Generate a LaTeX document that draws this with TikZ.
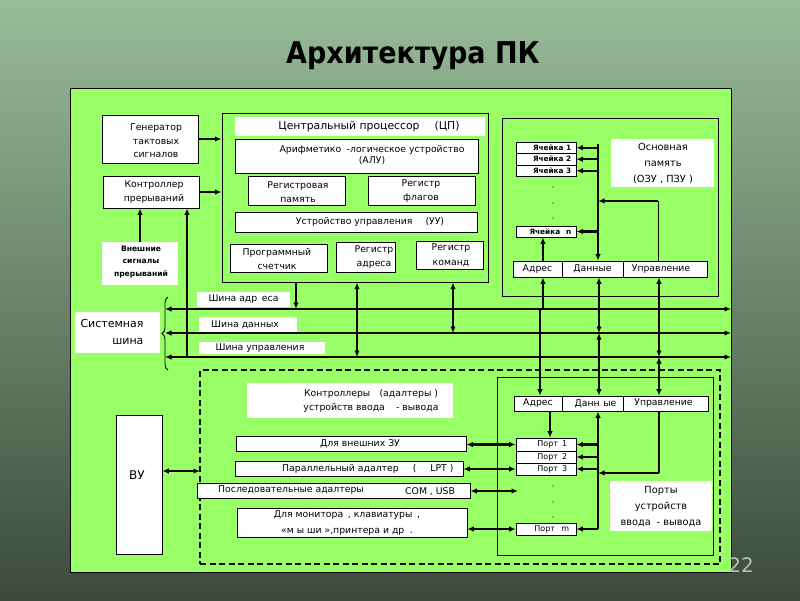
\documentclass[tikz,border=0pt]{standalone}
\usepackage{fontspec}
\setmainfont{DejaVu Sans}
\newfontfamily\ttlfont{DejaVu Sans Condensed}
\usetikzlibrary{fit,arrows.meta,decorations.pathreplacing}
\definecolor{panel}{RGB}{153,255,102}
\definecolor{bgtop}{RGB}{152,188,152}
\definecolor{bgmid}{RGB}{105,132,105}
\definecolor{bgbot}{RGB}{60,74,60}
\definecolor{pagenum}{RGB}{185,192,185}
\newcommand\fntN{\fontsize{9.3}{14.5}\selectfont}
\newcommand\fntT{\fontsize{10.8}{13}\selectfont}
\newcommand\fntA{\fontsize{9.3}{11}\selectfont}
\newcommand\fntG{\fontsize{9.3}{13.5}\selectfont}
\newcommand\fntE{\fontsize{7.6}{12.5}\selectfont\bfseries}
\newcommand\fntC{\fontsize{7.3}{8}\selectfont\bfseries}
\newcommand\fntP{\fontsize{8}{9}\selectfont}
\newcommand\fntM{\fontsize{9.8}{16}\selectfont}
\newcommand\fntB{\fontsize{11}{17.5}\selectfont}
\newcommand\fntL{\fontsize{9.3}{16}\selectfont}
\newcommand\fntV{\fontsize{12}{14}\selectfont}
\begin{document}
\begin{tikzpicture}[x=1pt,y=-1pt,>={Latex[length=6.5pt,width=5.5pt]},
 box/.style={draw=black,fill=white,line width=0.8pt,inner sep=0pt},
 wbox/.style={fill=white,draw=none,inner sep=0pt},
 frame/.style={draw=black,line width=1pt,inner sep=0pt},
 conn/.style={line width=2.3pt},
 thinconn/.style={line width=1pt},
 busline/.style={line width=2.8pt},
 txt/.style={inner sep=0pt,align=center,font=\fntN},
 celltxt/.style={inner sep=0pt,anchor=east,font=\fntC},
 porttxt/.style={inner sep=0pt,anchor=east,font=\fntP}]
\useasboundingbox (0,0) rectangle (800,600);
\shade[top color=bgtop, middle color=bgmid, bottom color=bgbot] (0,0) rectangle (800,600);
\node[font=\ttlfont\bfseries\fontsize{30}{32}\selectfont] (ttl) at (413,56) {Архитектура ПК};
\node[frame,fit={(70,88)(731,572)},fill=panel] (panel) {};
\node[font=\fontsize{20}{22}\selectfont,text=pagenum] (pnum) at (741,565) {22};

% left column
\node[box,fit={(102,115)(198,163)}] (gen) {};
\node[txt,font=\fntG] (gentxt) at (156,141) {Генератор\\тактовых\\сигналов};
\node[box,fit={(103,176)(199,208)}] (ctrl) {};
\node[txt] (ctrltxt) at (154,192) {Контроллер\\прерываний};
\node[wbox,fit={(102,242)(178,285)}] (ext) {};
\node[txt,font=\fntE] (exttxt) at (141,262) {Внешние\\сигналы\\прерываний};

% CPU
\node[frame,fit={(222,113)(488,282)}] (cpu) {};
\node[wbox,fit={(235,117)(485,136)}] (cputtl) {};
\node[txt,font=\fntT] (cputtltxt) at (369,127) {Центральный процессор\hspace{1.4em}(ЦП)};
\node[box,fit={(235,139)(478,173)}] (alu) {};
\node[txt,font=\fntA] (alutxt) at (372,155) {Арифметико\hspace{0.6em}-логическое устройство\\(АЛУ)};
\node[box,fit={(248,176)(345,205)}] (rmem) {};
\node[txt] (rmemtxt) at (298,192) {Регистровая\\память};
\node[box,fit={(368,176)(475,205)}] (rflag) {};
\node[txt] (rflagtxt) at (421,191) {Регистр\\флагов};
\node[box,fit={(235,212)(477,232)}] (cu) {};
\node[txt] (cutxt) at (370,222) {Устройство управления\hspace{1.4em}(УУ)};
\node[box,fit={(230,244)(327,272)}] (pc) {};
\node[txt] (pctxt) at (277,259) {Программный\\счетчик};
\node[box,fit={(336,242)(395,272)}] (ra) {};
\node[txt] (ratxt) at (374,257) {Регистр\\адреса};
\node[box,fit={(416,241)(483,269)}] (rc) {};
\node[txt] (rctxt) at (451,255) {Регистр\\команд};

% memory
\node[frame,fit={(502,118)(718,296)}] (mem) {};
\node[wbox,fit={(611,139)(714,187)}] (memttl) {};
\node[txt,font=\fntM] (memttltxt) at (663,164) {Основная\\память\\(ОЗУ , ПЗУ )};
\node[box,fit={(516,142)(576,153.5)}] (cell1) {};
\node[box,fit={(516,153.5)(576,165)}] (cell2) {};
\node[box,fit={(516,165)(576,176.5)}] (cell3) {};
\node[box,fit={(516,226)(576,237)}] (celln) {};
\node[celltxt] (cell1t) at ([xshift=-5]cell1.east) {Ячейка 1};
\node[celltxt] (cell2t) at ([xshift=-5]cell2.east) {Ячейка 2};
\node[celltxt] (cell3t) at ([xshift=-5]cell3.east) {Ячейка 3};
\node[celltxt] (cellnt) at ([xshift=-5]celln.east) {Ячейка\hspace{0.8em}n};
\fill (553,187) circle (0.7) (553,203) circle (0.7) (553,218) circle (0.7);
\node[box,fit={(513,261)(562,277)}] (mbA) {};
\node[box,fit={(562,261)(623,277)}] (mbD) {};
\node[box,fit={(623,261)(707,277)}] (mbC) {};
\node[txt] (mbAt) at (mbA.center) {Адрес};
\node[txt] (mbDt) at (mbD.center) {Данные};
\node[txt] (mbCt) at ([xshift=-4]mbC.center) {Управление};

% bus labels
\node[wbox,fit={(197,292)(290,307)}] (lA) {};
\node[txt] (lAt) at (lA.center) {Шина адр\hspace{0.5em}еса};
\node[wbox,fit={(199,317)(297,332)}] (lD) {};
\node[txt] (lDt) at ([xshift=-3]lD.center) {Шина данных};
\node[wbox,fit={(199,342)(325,354)}] (lC) {};
\node[txt] (lCt) at ([xshift=-2]lC.center) {Шина управления};
\node[wbox,fit={(75,312)(160,353)}] (sys) {};
\node[txt,align=right,font=\fntB] (systxt) at (112,332) {Системная\\шина};
\draw[line width=0.8pt,decorate,decoration={brace,amplitude=6pt}] (168,370) -- (168,297);

% I/O
\node[fit={(200,370)(720,564)},draw,line width=2pt,dash pattern=on 6pt off 3.5pt,inner sep=0pt] (iobox) {};
\node[frame,fit={(497,377)(713,555)}] (iop) {};
\node[box,fit={(514,396)(562,411)}] (ioA) {};
\node[box,fit={(562,396)(623,411)}] (ioD) {};
\node[box,fit={(623,396)(708,411)}] (ioC) {};
\node[txt] (ioAt) at (ioA.center) {Адрес};
\node[txt] (ioDt) at ([xshift=3]ioD.center) {Данн\hspace{0.4em}ые};
\node[txt] (ioCt) at ([xshift=-2]ioC.center) {Управление};
\node[box,fit={(516,438)(576,451)}] (p1) {};
\node[box,fit={(516,451)(576,463)}] (p2) {};
\node[box,fit={(516,463)(576,475)}] (p3) {};
\node[box,fit={(516,523)(576,535)}] (pm) {};
\node[porttxt] (p1t) at ([xshift=-9]p1.east) {Порт\hspace{0.5em}1};
\node[porttxt] (p2t) at ([xshift=-9]p2.east) {Порт\hspace{0.5em}2};
\node[porttxt] (p3t) at ([xshift=-9]p3.east) {Порт\hspace{0.5em}3};
\node[porttxt] (pmt) at ([xshift=-7]pm.east) {Порт\hspace{0.8em}m};
\fill (553,486) circle (0.7) (553,502) circle (0.7) (553,517) circle (0.7);
\node[wbox,fit={(610,481)(712,531)}] (iottl) {};
\node[txt,font=\fntM] (iottlt) at (661,507) {Порты\\устройств\\ввода\hspace{0.6em}- вывода};

\node[wbox,fit={(247,383)(453,418)}] (cttl) {};
\node[txt] (cttltxt) at (371,401) {Контроллеры\hspace{1em}(адалтеры )\\устройств ввода\hspace{1.2em}- вывода};
\node[box,fit={(236,436)(466,451)}] (c1) {};
\node[txt] (c1txt) at (360,444) {Для внешних ЗУ};
\node[box,fit={(235,461)(463,476)}] (c2) {};
\node[txt,anchor=west] (c2txt) at (282,469) {Параллельный адалтер\hspace{14pt}(\hspace{14pt}LPT )};
\node[box,fit={(197,483)(470,498)}] (c3) {};
\node[txt,anchor=west] (c3txt) at (218,490) {Последовательные адалтеры};
\node[txt,anchor=west] (c3txt2) at (405,492) {COM , USB};
\node[box,fit={(237,508)(467,537)}] (c4) {};
\node[txt,font=\fntL] (c4txt) at (347,523) {Для монитора\hspace{0.5em}, клавиатуры\hspace{0.5em},\\«м ы ши »,принтера и др\hspace{0.6em}.};
\node[box,fit={(116,415)(162,554)}] (vu) {};
\node[txt,font=\fntV] (vutxt) at (137,475) {ВУ};

% buses
\coordinate (aL) at (165,309); \coordinate (aR) at (731,309);
\coordinate (dL) at (165,333); \coordinate (dR) at (731,333);
\coordinate (cL) at (165,357); \coordinate (cR) at (731,357);
\draw[busline,<->] (aL) -- (aR);
\draw[busline,<->] (dL) -- (dR);
\draw[busline,<->] (cL) -- (cR);

% left connectors
\draw[conn,->] (gen.east) -- (gen.east -| cpu.west);
\draw[conn,->] (ctrl.east) -- (ctrl.east -| cpu.west);
\draw[conn,->] (ext.north) -- (ext.north |- ctrl.south);
\coordinate (v1) at (187,357);
\draw[conn,->] (v1) -- (v1 |- ctrl.south);

% CPU to buses
\coordinate (v2) at (296,309);
\draw[conn,->] (v2 |- cpu.south) -- (v2);
\coordinate (v3) at (357,357);
\draw[conn,<->] (v3 |- cpu.south) -- (v3);
\coordinate (v4) at (453,333);
\draw[conn,<->] (v4 |- cpu.south) -- (v4);

% memory connectors
\coordinate (v5) at (543,309);
\draw[conn,->] (v5) -- (v5 |- mbA.south);
\draw[conn,->] (v5 |- mbA.north) -- (v5 |- celln.south);
\coordinate (v6) at (599,333);
\draw[conn,<->] (v6 |- mbD.south) -- (v6);
\coordinate (v7) at (659,357);
\draw[conn,<->] (v7 |- mbC.south) -- (v7);
\coordinate (md) at (598,144);
\draw[conn,->] (md) -- (md |- mbD.north);
\foreach \c in {cell1,cell2,cell3,celln} \draw[conn,->] (md |- \c.east) -- (\c.east);
\coordinate (mc) at (658,201);
\draw[thinconn] (mc |- mbC.north) -- (mc);
\draw[conn,->] (mc) -- (mc -| md);

% I/O connectors
\coordinate (v8) at (540,309);
\draw[conn,->] (v8) -- (v8 |- ioA.north);
\draw[conn,<->] (v6) -- (v6 |- ioD.north);
\draw[conn,<->] (v7) -- (v7 |- ioC.north);
\coordinate (ia) at (550,420);
\draw[conn,->] (ia |- ioA.south) -- (ia |- p1.north);
\coordinate (id) at (598,529);
\draw[conn,->] (id) -- (id |- ioD.south);
\foreach \p in {p1,p2,p3,pm} \draw[conn,->] (id |- \p.east) -- (\p.east);
\coordinate (ic) at (659,473);
\draw[conn] (ic |- ioC.south) -- (ic);
\draw[conn,->] (ic) -- (ic -| id);

\draw[conn,<->] (p1.west -| c1.east) -- (p1.west);
\draw[conn,<->] (p3.west -| c2.east) -- (p3.west);
\coordinate (r3) at (518,491);
\draw[conn,<->] (r3 -| c3.east) -- (r3);
\draw[conn,<->] (pm.west -| c4.east) -- (pm.west);
\coordinate (ioL) at (200,471);
\draw[line width=1.5pt,<->] (ioL -| vu.east) -- (ioL);
\end{tikzpicture}
\end{document}
